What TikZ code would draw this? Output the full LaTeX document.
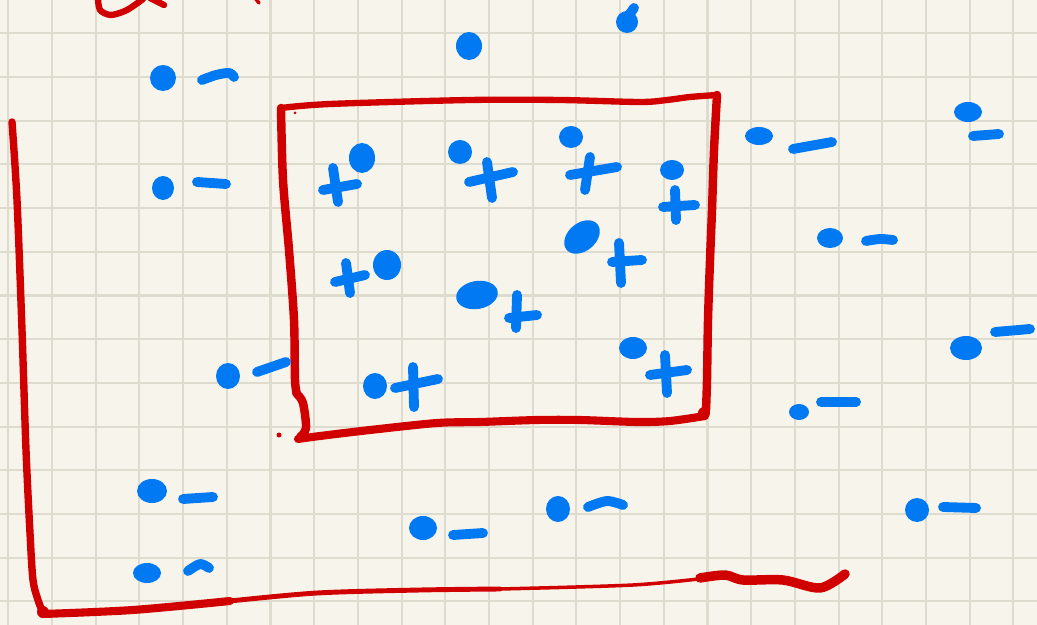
\documentclass[tikz,border=0pt]{standalone}
\usepackage{xcolor}
\usepackage{tikz}
\usetikzlibrary{calc}
\definecolor{paper}{HTML}{F7F5EB}
\definecolor{gridgray}{HTML}{DEDBCF}
\definecolor{inkred}{HTML}{D00000}
\definecolor{inkblue}{HTML}{0079F2}
\tikzstyle{gridline} = [draw=gridgray, line width=0.6pt]
\tikzstyle{redink} = [draw=inkred, line width=2.2pt, line cap=round, line join=round]
\tikzstyle{blueink} = [draw=inkblue, line width=2.8pt, line cap=round, line join=round]
\tikzstyle{blot} = [fill=inkblue]

\begin{document}
\begin{tikzpicture}[x=0.01cm, y=-0.01cm]
    % paper
    \fill[paper] (0,0) rectangle (1037,625);
    \useasboundingbox (0,0) rectangle (1037,625);
    \foreach \k in {0,...,23}
        \draw[gridline] ({8.3+43.7*\k},0) -- ({8.3+43.7*\k},625);
    \foreach \k in {0,...,13}
        \draw[gridline] (0,{33.3+43.7*\k}) -- (1037,{33.3+43.7*\k});

    % red strokes cut off at the top
    \draw[redink, line width=1.8pt] plot[smooth] coordinates {(98,-2) (100,10) (111,15) (127,10) (143,-1)};
    \draw[redink, line width=1.8pt] (150,-2) -- (164,5);
    \draw[redink, line width=1pt] (255,-2) -- (259,3);

    % inner box
    \draw[redink, line width=1.8pt] plot[smooth] coordinates {(281,108) (330,104) (470,100) (560,100) (640,102) (667,100) (690,97) (717,95)};
    \draw[redink, line width=2.4pt] plot[smooth] coordinates {(717,95) (714,150) (712,210) (710,260) (708,320) (707,380) (706,410)};
    \draw[redink, line width=2.3pt] plot[smooth] coordinates {(705,416) (670,421) (637,422) (580,420) (537,420) (480,422) (437,423) (370,430) (320,436) (298,439)};
    \draw[redink, line width=2.4pt] plot[smooth] coordinates {(281,108) (283,180) (289,250) (294,320) (295,380) (297,394)};
    \draw[redink, line width=2.4pt] plot[smooth] coordinates {(297,394) (303,403) (306,428) (300,437)};
    \fill[inkred] (704,413) circle (6);
    \fill[inkred] (296,393) circle (4);
    \fill[inkred] (295,113) circle (1.5);
    \fill[inkred] (279,435) circle (2.5);

    % outer bracket
    \draw[redink, line width=2.1pt] plot[smooth] coordinates {(12,122) (17,200) (22,330) (26,450) (30,533) (33,580) (38,600) (43,613)};
    \draw[redink, line width=2.3pt] plot[smooth] coordinates {(43,614) (133,610) (230,601)};
    \draw[redink, line width=1.4pt] plot[smooth] coordinates {(230,601) (317,593) (420,590) (500,589)};
    \draw[redink, line width=1pt] plot[smooth] coordinates {(500,589) (633,585) (707,578)};
    \draw[redink, line width=2.7pt] plot[smooth] coordinates {(700,578) (725,575) (743,580) (783,580) (820,588) (845,574)};
    \fill[inkred] (43,612) circle (6);

    % dots with a minus
    \foreach \x/\y/\rx/\ry in {163/78/13/13, 163/188/11/12, 228/376/12/13, 152/491/15/12,
        147/573/14/10, 423/528/14/12, 558/509/12/13, 759/136/14/9, 968/112/14/10,
        830/238/13/10, 966/348/16/12, 799/412/10/8, 917/510/12/12, 469/46/13/14, 627/22/11/11}
        \fill[blot] (\x,\y) ellipse [x radius=\rx, y radius=\ry];
    \draw[blueink] (627,18) -- (634,8);
    \draw[blueink] plot[smooth] coordinates {(202,80) (216,75) (229,73) (234,77)};
    \draw[blueink] (197,182) -- (226,184);
    \draw[blueink] (257,372) -- (286,362);
    \draw[blueink] (183,499) -- (213,497);
    \draw[blueink] plot[smooth] coordinates {(188,571) (200,564) (209,568)};
    \draw[blueink] (453,535) -- (483,533);
    \draw[blueink] plot[smooth] coordinates {(588,507) (607,501) (623,505)};
    \draw[blueink] (793,149) -- (832,142);
    \draw[blueink] (973,136) -- (999,134);
    \draw[blueink] plot[smooth] coordinates {(866,241) (880,239) (893,240)};
    \draw[blueink] (995,332) -- (1030,329);
    \draw[blueink] (821,402) -- (856,402);
    \draw[blueink] (943,507) -- (976,508);

    % dots with a plus
    \foreach \x/\y/\rx/\ry in {362/158/13/15, 460/152/12/12, 571/137/12/11, 672/170/12/10,
        387/265/14/15, 633/348/14/11, 375/386/12/13}
        \fill[blot] (\x,\y) ellipse [x radius=\rx, y radius=\ry];
    \fill[blot] (582,237) ellipse [x radius=20, y radius=14, rotate=40];
    \fill[blot] (477,295) ellipse [x radius=21, y radius=14, rotate=10];
    \draw[blueink] (333,168) -- (338,202) (323,190) -- (357,184);
    \draw[blueink] (487,162) -- (492,198) (469,182) -- (513,172);
    \draw[blueink] (590,157) -- (585,190) (570,175) -- (617,167);
    \draw[blueink] (675,190) -- (676,220) (663,207) -- (695,205);
    \draw[blueink] (619,243) -- (621,283) (612,262) -- (642,260);
    \draw[blueink] (346,263) -- (350,293) (335,282) -- (365,275);
    \draw[blueink] (517,295) -- (516,328) (509,318) -- (537,315);
    \draw[blueink] (665,355) -- (667,393) (650,375) -- (687,370);
    \draw[blueink] (413,367) -- (414,407) (395,388) -- (438,379);
\end{tikzpicture}
\end{document}
